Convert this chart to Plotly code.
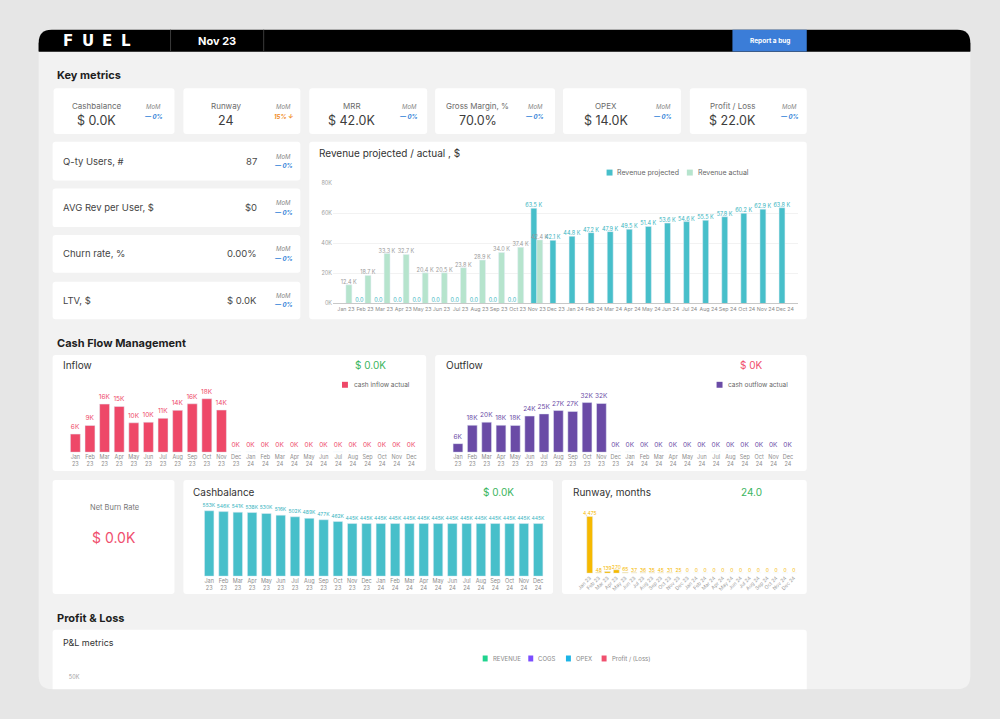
import plotly.graph_objects as go

# ---------------- data ----------------
months = ["Jan 23", "Feb 23", "Mar 23", "Apr 23", "May 23", "Jun 23", "Jul 23", "Aug 23",
          "Sep 23", "Oct 23", "Nov 23", "Dec 23", "Jan 24", "Feb 24", "Mar 24", "Apr 24",
          "May 24", "Jun 24", "Jul 24", "Aug 24", "Sep 24", "Oct 24", "Nov 24", "Dec 24"]

rev_projected_k = [None, 0, 0, 0, 0, 0, 0, 0, 0, 0, 63.5, 42.1, 44.8, 47.2, 47.9, 49.5,
                   51.4, 53.6, 54.6, 55.5, 57.8, 60.2, 62.9, 63.8]
rev_actual_k = [12.4, 18.7, 33.3, 32.7, 20.4, 20.5, 23.8, 28.9, 34.0, 37.4, 42.4,
                None, None, None, None, None, None, None, None, None, None, None, None, None]

inflow_k = [6.1, 9.0, 16.2, 15.4, 9.9, 10.1, 11.4, 14.1, 16.3, 18.0, 14.2,
            0, 0, 0, 0, 0, 0, 0, 0, 0, 0, 0, 0, 0]
outflow_k = [5.6, 17.6, 19.6, 17.6, 17.5, 23.6, 25.0, 27.2, 26.6, 32.4, 31.8,
             0, 0, 0, 0, 0, 0, 0, 0, 0, 0, 0, 0, 0]
cashbalance_k = [553, 546, 541, 538, 530, 516, 502, 489, 477, 462,
                 445, 445, 445, 445, 445, 445, 445, 445, 445, 445, 445, 445, 445, 445]
runway_months = [4475, 48, 139, 270, 65, 37, 36, 35, 45, 31, 25,
                 0, 0, 0, 0, 0, 0, 0, 0, 0, 0, 0, 0, 0]

key_metric_labels = ["Cashbalance", "Runway", "MRR", "Gross Margin, %", "OPEX", "Profit / Loss"]
key_metric_values = ["$ 0.0K", "24", "$ 42.0K", "70.0%", "$ 14.0K", "$ 22.0K"]
key_metric_mom = ["— 0%", "15% ↓", "— 0%", "— 0%", "— 0%", "— 0%"]

side_metric_labels = ["Q-ty Users, #", "AVG Rev per User, $", "Churn rate, %", "LTV, $"]
side_metric_values = ["87", "$0", "0.00%", "$ 0.0K"]
side_metric_mom = ["— 0%", "— 0%", "— 0%", "— 0%"]

revenue_legend = ["Revenue projected", "Revenue actual"]
pl_legend = ["REVENUE", "COGS", "OPEX", "Profit / (Loss)"]

# ---------------- styling ----------------
W, H = 1000, 719
FONT = "Inter"
TEAL = "#47bfca"
LIGHT_GREEN = "#b6e4cd"
RED = "#ee4868"
PURPLE = "#6a4ba6"
YELLOW = "#f6b900"
GREEN_TXT = "#3bb55e"
RED_TXT = "#f0506e"
BLUE_TXT = "#2f7fd8"


def px(x):
    return x / W


def py(y):
    return 1 - y / H


shapes = []
annotations = []


def rrect(x0, y0, x1, y1, r, fill, top=True, bottom=True):
    rt = r if top else 0
    rb = r if bottom else 0
    pts = [
        f"M{px(x0 + rt)},{py(y0)}",
        f"L{px(x1 - rt)},{py(y0)}",
        f"Q{px(x1)},{py(y0)} {px(x1)},{py(y0 + rt)}",
        f"L{px(x1)},{py(y1 - rb)}",
        f"Q{px(x1)},{py(y1)} {px(x1 - rb)},{py(y1)}",
        f"L{px(x0 + rb)},{py(y1)}",
        f"Q{px(x0)},{py(y1)} {px(x0)},{py(y1 - rb)}",
        f"L{px(x0)},{py(y0 + rt)}",
        f"Q{px(x0)},{py(y0)} {px(x0 + rt)},{py(y0)}",
        "Z",
    ]
    shapes.append(dict(type="path", xref="paper", yref="paper", path=" ".join(pts),
                       fillcolor=fill, line=dict(width=0), layer="below"))


def rect(x0, y0, x1, y1, fill, layer="below"):
    shapes.append(dict(type="rect", xref="paper", yref="paper", x0=px(x0), x1=px(x1),
                       y0=py(y1), y1=py(y0), fillcolor=fill, line=dict(width=0),
                       layer=layer))


def vline(x, y0, y1, color, width=1):
    shapes.append(dict(type="line", xref="paper", yref="paper", x0=px(x), x1=px(x),
                       y0=py(y0), y1=py(y1), line=dict(color=color, width=width)))


def txt(x, y, s, size, color, anchor="left", weight="normal", style="normal",
        family=FONT):
    annotations.append(dict(x=px(x), y=py(y), xref="paper", yref="paper", text=s,
                            showarrow=False, xanchor=anchor, yanchor="middle",
                            font=dict(size=size, color=color, family=family,
                                      weight=weight, style=style)))


# frame + header
rrect(30, 27, 970, 692, 13, "#f2f2f2")
rrect(30, 27, 970, 49, 13, "#000000", bottom=False)
rect(30, 40, 970, 49, "#000000")
vline(163, 27, 49, "#3a3a3a", 1)
vline(257, 27, 49, "#3a3a3a", 1)
rect(730, 27, 805, 49, "#3b7dd8")
for i, ch in enumerate("FUEL"):
    txt(60 + i * 19.5, 38.5, ch, 15, "#ffffff", anchor="center", weight="bold",
        family="DejaVu Sans")
txt(210, 38.5, "Nov 23", 11, "#ffffff", anchor="center", weight="bold")
txt(767.5, 38.5, "Report a bug", 6.5, "#ffffff", anchor="center", weight="bold")

# section titles
txt(46, 73, "Key metrics", 11, "#1e1e1e", weight="bold")
txt(46, 343, "Cash Flow Management", 11, "#1e1e1e", weight="bold")
txt(46, 620, "Profit & Loss", 11, "#1e1e1e", weight="bold")

# key metric cards
card_x = [(45, 167), (176, 294), (303, 422), (430, 551), (559, 678), (687, 805)]
for (x0, x1), lab, val, mom in zip(card_x, key_metric_labels, key_metric_values,
                                   key_metric_mom):
    rrect(x0, 86, x1, 132, 3, "#ffffff")
    cx = x0 + 43
    txt(cx, 104, lab, 8, "#6b6b6b", anchor="center")
    txt(cx, 118, val, 12.5, "#3d3d3d", anchor="center")
    mx = x0 + 101
    txt(mx, 104, "MoM", 6, "#8a8a8a", anchor="center", style="italic")
    col = "#f08a24" if "↓" in mom else BLUE_TXT
    txt(mx, 114, mom, 6, col, anchor="center", weight="bold", style="italic")

# side metric cards
side_y = [(140, 179), (187, 226), (234, 272), (281, 319)]
for (y0, y1), lab, val, mom in zip(side_y, side_metric_labels, side_metric_values,
                                   side_metric_mom):
    rrect(44, y0, 294, y1, 3, "#ffffff")
    cy = (y0 + y1) / 2
    txt(52, cy, lab, 9.5, "#444444")
    txt(252, cy, val, 9.5, "#4a4a4a", anchor="right")
    txt(277, cy - 5, "MoM", 6, "#8a8a8a", anchor="center", style="italic")
    txt(277, cy + 4.5, mom, 6, BLUE_TXT, anchor="center", weight="bold", style="italic")

# revenue card
rrect(303, 140, 805, 319, 3, "#ffffff")
txt(311, 151, "Revenue projected / actual , $", 10, "#333333")
leg_pos = [(603, TEAL), (684, LIGHT_GREEN)]
for name, (lx, col) in zip(revenue_legend, leg_pos):
    rect(lx, 168, lx + 6, 174, col)
    txt(lx + 9, 171, name, 7, "#666666")

# cash flow cards
rrect(44, 355, 421, 472, 3, "#ffffff")
txt(52, 365, "Inflow", 10, "#333333")
txt(365, 365, "$ 0.0K", 10, GREEN_TXT, anchor="center")
rect(336, 382, 342, 388, RED)
txt(346, 385, "cash inflow actual", 6.5, "#666666")

rrect(430, 355, 805, 472, 3, "#ffffff")
txt(439, 365, "Outflow", 10, "#333333")
txt(749, 365, "$ 0K", 10, RED_TXT, anchor="center")
rect(714, 382, 720, 388, PURPLE)
txt(724, 385, "cash outflow actual", 6.5, "#666666")

rrect(44, 481, 167, 596, 3, "#ffffff")
txt(106, 509, "Net Burn Rate", 7.5, "#777777", anchor="center")
txt(106, 539, "$ 0.0K", 14, RED_TXT, anchor="center")

rrect(176, 481, 549, 596, 3, "#ffffff")
txt(184, 493, "Cashbalance", 10, "#333333")
txt(494, 493, "$ 0.0K", 10, GREEN_TXT, anchor="center")

rrect(558, 481, 805, 596, 3, "#ffffff")
txt(567, 493, "Runway, months", 10, "#333333")
txt(749, 493, "24.0", 10, GREEN_TXT, anchor="center")

# P&L card
rrect(44, 632, 805, 700, 3, "#ffffff", bottom=False)
txt(52, 645, "P&L metrics", 9, "#333333")
pl_cols = ["#1fd38e", "#7b4dff", "#1cb4e6", "#f0506e"]
pl_x = [478, 524, 562, 598]
for name, col, lx in zip(pl_legend, pl_cols, pl_x):
    rect(lx, 658, lx + 5, 664, col)
    txt(lx + 8, 661, name, 6, "#888888")
# outer background strip below the frame (cuts the P&L card)
shapes.append(dict(type="rect", xref="paper", yref="paper", x0=0, x1=1, y0=0,
                   y1=py(692), fillcolor="#e6e6e6", line=dict(width=0), layer="below"))

# ---------------- traces ----------------
fig = go.Figure()

two_line = [m.replace(" ", "<br>") for m in months]

fig.add_trace(go.Bar(
    x=months, y=rev_projected_k, marker_color=TEAL, width=0.31, offset=-0.31,
    text=[None if v is None else f"{v:.1f} K" for v in rev_projected_k],
    textposition="outside", constraintext="none", cliponaxis=False,
    textfont=dict(size=5.5, color="#36b4c0", family=FONT), showlegend=False,
    xaxis="x", yaxis="y"))
fig.add_trace(go.Bar(
    x=months, y=rev_actual_k, marker_color=LIGHT_GREEN, width=0.31, offset=0,
    text=[None if v is None else f"{v:.1f} K" for v in rev_actual_k],
    textposition="outside", constraintext="none", cliponaxis=False,
    textfont=dict(size=5.5, color="#9a9a9a", family=FONT), showlegend=False,
    xaxis="x", yaxis="y"))

fig.add_trace(go.Bar(
    x=months, y=inflow_k, marker_color=RED, width=0.68,
    text=[f"{round(v)}K" for v in inflow_k], textposition="outside",
    constraintext="none", cliponaxis=False,
    textfont=dict(size=6.5, color=RED, family=FONT), showlegend=False,
    xaxis="x2", yaxis="y2"))

fig.add_trace(go.Bar(
    x=months, y=outflow_k, marker_color=PURPLE, width=0.68,
    text=[f"{round(v)}K" for v in outflow_k], textposition="outside",
    constraintext="none", cliponaxis=False,
    textfont=dict(size=6.5, color=PURPLE, family=FONT), showlegend=False,
    xaxis="x3", yaxis="y3"))

fig.add_trace(go.Bar(
    x=months, y=cashbalance_k, marker_color=TEAL, width=0.66,
    text=[f"{v}K" for v in cashbalance_k], textposition="outside",
    constraintext="none", cliponaxis=False,
    textfont=dict(size=5, color="#36b4c0", family=FONT), showlegend=False,
    xaxis="x4", yaxis="y4"))

fig.add_trace(go.Bar(
    x=months, y=runway_months, marker_color=YELLOW, width=0.66,
    text=[f"{v:,}" for v in runway_months], textposition="outside",
    constraintext="none", cliponaxis=False,
    textfont=dict(size=5, color=YELLOW, family=FONT), showlegend=False,
    xaxis="x5", yaxis="y5"))

# empty trace so the P&L subplot (gridline + tick) is drawn
fig.add_trace(go.Scatter(x=[None], y=[None], mode="lines", showlegend=False,
                         hoverinfo="skip", xaxis="x6", yaxis="y6"))

# ---------------- axes ----------------
tickfont = dict(size=5.5, color="#8c8c8c", family=FONT)
hidden_y = dict(visible=False, showgrid=False, zeroline=False, fixedrange=True)


def xcat(x0, x1, anchor, **kw):
    d = dict(domain=[px(x0), px(x1)], type="category", showgrid=False,
             zeroline=False, showline=False, ticks="", tickfont=tickfont,
             range=[-0.5, 23.5], fixedrange=True, anchor=anchor, tickangle=0)
    d.update(kw)
    return d


def ydom(y_bottom, y_top):
    return [py(y_bottom), py(y_top)]


layout = dict(
    width=W, height=H, margin=dict(l=0, r=0, t=0, b=0),
    paper_bgcolor="#e6e6e6", plot_bgcolor="rgba(0,0,0,0)",
    barmode="overlay", showlegend=False,
    shapes=shapes, annotations=annotations,
    font=dict(family=FONT),
)

# revenue
layout["xaxis"] = xcat(327, 796, "y", range=[-0.675, 23.675], showline=True,
                       linecolor="#c8c8c8", linewidth=1,
                       tickfont=dict(size=5.3, color="#8c8c8c", family=FONT))
layout["yaxis"] = dict(domain=ydom(303, 182), range=[0, 80], dtick=20, ticksuffix="K",
                       showgrid=True, gridcolor="#f2f2f2", zeroline=False,
                       tickfont=dict(size=5.5, color="#a0a0a0", family=FONT),
                       anchor="x", fixedrange=True)

# inflow
layout["xaxis2"] = xcat(59.6, 413.4, "y2", tickvals=months, ticktext=two_line)
layout["yaxis2"] = dict(hidden_y, domain=ydom(453, 385), range=[0, 22.7], anchor="x2")

# outflow
layout["xaxis3"] = xcat(445.8, 793.2, "y3", tickvals=months, ticktext=two_line)
layout["yaxis3"] = dict(hidden_y, domain=ydom(453, 385), range=[0, 44.0], anchor="x3")

# cashbalance
layout["xaxis4"] = xcat(194.8, 541.2, "y4", tickvals=months, ticktext=two_line)
layout["yaxis4"] = dict(hidden_y, domain=ydom(578, 505), range=[0, 612], anchor="x4")

# runway
layout["xaxis5"] = xcat(581.5, 796.5, "y5", tickangle=-45,
                        tickfont=dict(size=5, color="#9a9a9a", family=FONT))
layout["yaxis5"] = dict(hidden_y, domain=ydom(575, 505), range=[0, 5467], anchor="x5")

# P&L (only the top gridline is visible above the frame edge)
layout["xaxis6"] = dict(domain=[px(72), px(797)], visible=False, range=[0, 1],
                        fixedrange=True, anchor="y6")
layout["yaxis6"] = dict(domain=ydom(691, 680), range=[46, 50], tickvals=[50],
                        ticktext=["50K"], showgrid=True, gridcolor="#efefef",
                        zeroline=False, tickfont=dict(size=5.5, color="#a0a0a0",
                                                      family=FONT),
                        anchor="x6", fixedrange=True)

fig.update_layout(**layout)
fig.write_html("out.html", config={"displayModeBar": False},
               post_script="document.body.style.margin='0';")
